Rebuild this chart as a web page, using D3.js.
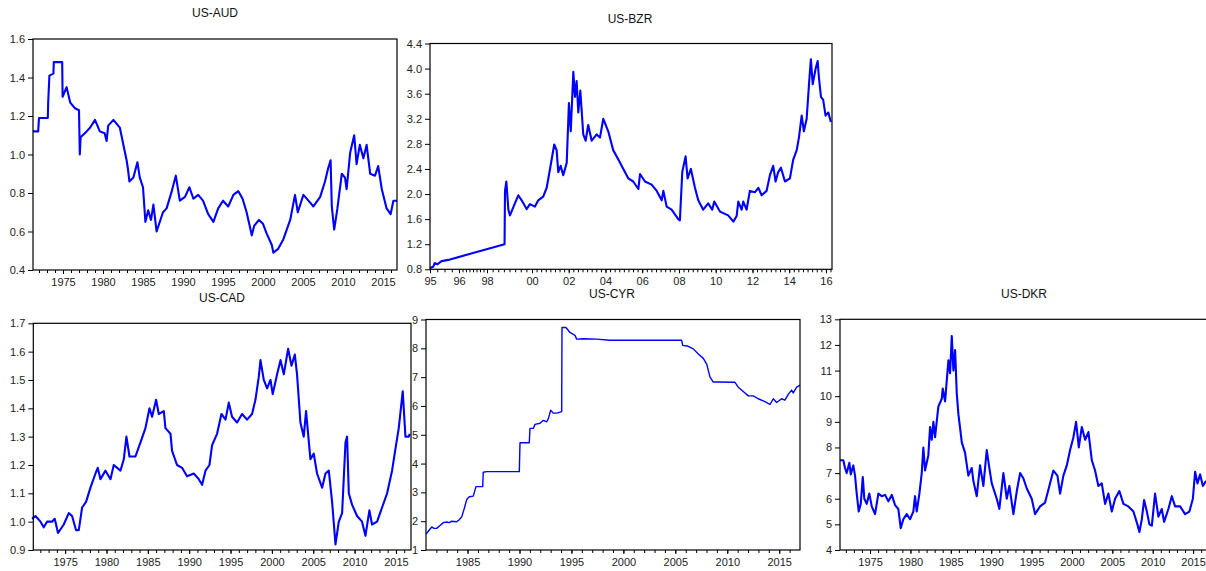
<!DOCTYPE html>
<html>
<head>
<meta charset="utf-8">
<script src="https://cdn.jsdelivr.net/npm/d3@7"></script>
<style>
  body { margin: 0; background: #fff; }
  svg { display: block; font-family: "Liberation Sans", Arial, sans-serif; }
</style>
</head>
<body>
<script>
// DATA

const audYears = [1971.25, 1971.9, 1972.0, 1973.1, 1973.15, 1973.3, 1973.8, 1973.85, 1974.9, 1974.95,
  1975.45, 1975.9, 1976.5, 1977.0, 1977.1, 1977.2, 1977.95, 1978.4, 1979.0, 1979.6,
  1980.2, 1980.45, 1980.65, 1981.3, 1982.1, 1982.5, 1982.95, 1983.1, 1983.3, 1983.8,
  1984.3, 1984.6, 1985.0, 1985.3, 1985.65, 1986.0, 1986.3, 1986.7, 1987.5, 1987.95,
  1988.6, 1989.1, 1989.6, 1990.25, 1990.8, 1991.3, 1991.9, 1992.5, 1993.15, 1993.8,
  1994.4, 1995.0, 1995.65, 1996.3, 1996.9, 1997.45, 1997.95, 1998.6, 1998.9, 1999.5,
  2000.0, 2000.45, 2001.1, 2001.3, 2001.9, 2002.55, 2003.4, 2004.0, 2004.35, 2005.05,
  2005.9, 2006.3, 2007.15, 2007.75, 2008.15, 2008.45, 2008.6, 2008.9, 2009.3, 2009.85,
  2010.25, 2010.45, 2010.9, 2011.4, 2011.7, 2012.1, 2012.55, 2012.95, 2013.4, 2014.0,
  2014.4, 2014.85, 2015.45, 2015.95, 2016.3, 2016.75];
const audRates = [1.12, 1.12, 1.19, 1.19, 1.27, 1.41, 1.42, 1.48, 1.48, 1.30,
  1.35, 1.27, 1.24, 1.23, 1.00, 1.09, 1.12, 1.14, 1.18, 1.12,
  1.11, 1.07, 1.15, 1.18, 1.14, 1.06, 0.97, 0.93, 0.86, 0.88,
  0.96, 0.88, 0.83, 0.65, 0.71, 0.66, 0.74, 0.60, 0.70, 0.72,
  0.81, 0.89, 0.76, 0.78, 0.83, 0.77, 0.79, 0.76, 0.69, 0.65,
  0.72, 0.76, 0.73, 0.79, 0.81, 0.77, 0.70, 0.58, 0.63, 0.66,
  0.64, 0.59, 0.53, 0.49, 0.51, 0.56, 0.66, 0.79, 0.70, 0.79,
  0.75, 0.73, 0.78, 0.86, 0.93, 0.97, 0.73, 0.61, 0.72, 0.90,
  0.88, 0.82, 1.01, 1.10, 0.95, 1.05, 0.98, 1.05, 0.90, 0.89,
  0.94, 0.82, 0.72, 0.69, 0.76, 0.76];

const bzrYears = [1995.0, 1995.11, 1995.16, 1995.25, 1995.4, 1995.63, 1998.78, 1998.8, 1998.86, 1998.95,
  1999.02, 1999.24, 1999.39, 1999.54, 1999.76, 1999.91, 2000.16, 2000.34, 2000.61, 2000.80,
  2000.98, 2001.07, 2001.21, 2001.34, 2001.43, 2001.56, 2001.70, 2001.89, 2002.01, 2002.11,
  2002.25, 2002.34, 2002.43, 2002.52, 2002.63, 2002.79, 2002.92, 2003.06, 2003.25, 2003.52,
  2003.70, 2003.88, 2004.15, 2004.42, 2004.70, 2004.97, 2005.24, 2005.51, 2005.79, 2005.88,
  2006.15, 2006.51, 2006.79, 2007.06, 2007.15, 2007.33, 2007.60, 2007.96, 2008.05, 2008.18,
  2008.36, 2008.47, 2008.65, 2008.87, 2009.05, 2009.32, 2009.59, 2009.81, 2009.92, 2010.23,
  2010.68, 2010.96, 2011.14, 2011.23, 2011.41, 2011.50, 2011.68, 2011.86, 2012.14, 2012.32,
  2012.50, 2012.77, 2012.95, 2013.13, 2013.26, 2013.40, 2013.55, 2013.77, 2014.04, 2014.22,
  2014.41, 2014.53, 2014.68, 2014.80, 2014.95, 2015.09, 2015.18, 2015.28, 2015.44, 2015.55,
  2015.62, 2015.73, 2015.85, 2015.98, 2016.13, 2016.27];
const bzrRates = [0.82, 0.84, 0.90, 0.88, 0.93, 0.95, 1.20, 2.05, 2.20, 1.75,
  1.66, 1.85, 1.98, 1.90, 1.76, 1.84, 1.80, 1.90, 1.96, 2.10,
  2.40, 2.55, 2.79, 2.70, 2.35, 2.45, 2.30, 2.50, 3.45, 3.00,
  3.95, 3.55, 3.80, 3.30, 3.65, 2.95, 2.85, 3.10, 2.85, 2.95,
  2.90, 3.20, 3.00, 2.70, 2.55, 2.40, 2.25, 2.20, 2.08, 2.32,
  2.20, 2.15, 2.05, 1.90, 2.05, 1.80, 1.75, 1.60, 1.58, 2.35,
  2.60, 2.25, 2.40, 2.10, 1.90, 1.75, 1.85, 1.75, 1.88, 1.72,
  1.66, 1.56, 1.65, 1.88, 1.75, 1.88, 1.75, 2.05, 2.03, 2.10,
  1.98, 2.05, 2.30, 2.45, 2.20, 2.35, 2.42, 2.20, 2.25, 2.55,
  2.70, 2.90, 3.25, 3.00, 3.20, 3.80, 4.15, 3.75, 4.00, 4.12,
  3.85, 3.55, 3.50, 3.25, 3.30, 3.15];

const cadYears = [1971.0, 1971.41, 1972.02, 1972.41, 1972.81, 1973.42, 1973.74, 1974.14, 1974.83, 1975.44,
  1975.84, 1976.32, 1976.65, 1977.05, 1977.53, 1978.06, 1978.67, 1978.94, 1979.27, 1979.88,
  1980.48, 1980.88, 1981.69, 1982.09, 1982.41, 1982.78, 1983.50, 1984.11, 1984.71, 1985.20,
  1985.51, 1986.0, 1986.32, 1986.93, 1987.13, 1987.74, 1987.93, 1988.53, 1989.14, 1989.74,
  1990.55, 1991.16, 1991.56, 1991.97, 1992.45, 1992.77, 1993.37, 1993.90, 1994.39, 1994.79,
  1995.18, 1995.79, 1996.39, 1997.0, 1997.60, 1998.01, 1998.41, 1998.62, 1999.02, 1999.42,
  1999.83, 2000.10, 2000.63, 2001.04, 2001.44, 2001.96, 2002.37, 2002.77, 2003.04, 2003.45,
  2003.85, 2004.13, 2004.66, 2005.06, 2005.46, 2006.07, 2006.48, 2006.88, 2007.28, 2007.69,
  2008.09, 2008.49, 2008.90, 2009.09, 2009.30, 2009.69, 2010.30, 2010.90, 2011.31, 2011.79,
  2012.11, 2012.72, 2013.32, 2013.93, 2014.53, 2015.01, 2015.34, 2015.82, 2016.15, 2016.55, 2016.67];
const cadRates = [1.01, 1.02, 1.00, 0.98, 1.00, 1.00, 1.01, 0.96, 0.99, 1.03,
  1.02, 0.97, 0.97, 1.05, 1.07, 1.12, 1.17, 1.19, 1.15, 1.18,
  1.15, 1.20, 1.18, 1.22, 1.30, 1.23, 1.23, 1.28, 1.33, 1.40,
  1.37, 1.43, 1.38, 1.39, 1.33, 1.31, 1.25, 1.20, 1.19, 1.16,
  1.17, 1.15, 1.13, 1.18, 1.20, 1.27, 1.31, 1.38, 1.36, 1.42,
  1.37, 1.35, 1.38, 1.36, 1.38, 1.43, 1.51, 1.57, 1.50, 1.47,
  1.50, 1.45, 1.52, 1.57, 1.52, 1.61, 1.55, 1.59, 1.52, 1.35,
  1.30, 1.39, 1.22, 1.24, 1.17, 1.12, 1.17, 1.18, 1.07, 0.92,
  1.00, 1.03, 1.28, 1.30, 1.10, 1.06, 1.02, 1.00, 0.95, 1.04,
  0.99, 1.00, 1.05, 1.10, 1.18, 1.27, 1.33, 1.46, 1.30, 1.30, 1.31];

const cyrYears = [1981.0, 1981.22, 1981.55, 1981.77, 1982.03, 1982.35, 1982.67, 1982.99, 1983.24, 1983.47,
  1983.95, 1984.20, 1984.44, 1984.69, 1984.92, 1985.17, 1985.55, 1985.81, 1986.46, 1986.51,
  1986.84, 1989.98, 1990.05, 1990.94, 1991.01, 1991.33, 1991.49, 1991.97, 1992.29, 1992.62,
  1992.77, 1993.00, 1993.25, 1993.58, 1994.06, 1994.09, 1994.47, 1994.86, 1995.34, 1995.50,
  1996.14, 1997.43, 1998.71, 2005.61, 2005.71, 2006.25, 2006.73, 2007.21, 2007.69, 2008.02,
  2008.34, 2008.65, 2008.98, 2010.74, 2011.06, 2011.54, 2012.02, 2012.50, 2012.98, 2013.63,
  2014.11, 2014.43, 2014.75, 2015.23, 2015.55, 2015.87, 2016.19, 2016.35, 2016.68, 2017.0];
const cyrRates = [1.55, 1.65, 1.80, 1.75, 1.75, 1.85, 1.95, 1.97, 1.95, 2.00,
  1.98, 2.05, 2.15, 2.45, 2.75, 2.85, 2.87, 3.20, 3.20, 3.70,
  3.72, 3.72, 4.72, 4.72, 5.22, 5.22, 5.36, 5.40, 5.50, 5.45,
  5.55, 5.85, 5.75, 5.75, 5.80, 8.72, 8.72, 8.55, 8.45, 8.32,
  8.33, 8.32, 8.28, 8.28, 8.10, 8.07, 7.98, 7.80, 7.65, 7.45,
  7.00, 6.83, 6.83, 6.82, 6.65, 6.50, 6.35, 6.35, 6.25, 6.15,
  6.05, 6.25, 6.12, 6.25, 6.20, 6.40, 6.55, 6.45, 6.65, 6.72];

const dkrYears = [1971.28, 1971.69, 1971.90, 1972.11, 1972.44, 1972.61, 1972.93, 1973.14, 1973.35, 1973.60,
  1973.85, 1974.10, 1974.29, 1974.59, 1974.91, 1975.21, 1975.62, 1976.03, 1976.45, 1976.86,
  1977.27, 1977.69, 1978.10, 1978.50, 1978.80, 1979.12, 1979.54, 1979.95, 1980.36, 1980.57,
  1980.78, 1981.11, 1981.40, 1981.60, 1981.81, 1982.22, 1982.43, 1982.64, 1982.84, 1983.05,
  1983.46, 1983.88, 1984.00, 1984.29, 1984.70, 1984.91, 1985.12, 1985.32, 1985.53, 1985.74,
  1985.94, 1986.36, 1986.76, 1987.17, 1987.59, 1987.79, 1988.21, 1988.62, 1989.03, 1989.45,
  1989.77, 1990.07, 1990.69, 1991.01, 1991.51, 1991.93, 1992.25, 1992.75, 1993.17, 1993.58,
  1993.98, 1994.41, 1995.02, 1995.43, 1996.05, 1996.67, 1997.29, 1997.70, 1998.20, 1998.53,
  1998.94, 1999.36, 1999.77, 2000.18, 2000.51, 2000.85, 2001.22, 2001.63, 2002.04, 2002.46,
  2002.86, 2003.27, 2003.69, 2004.10, 2004.51, 2004.93, 2005.34, 2005.87, 2006.37, 2006.99,
  2007.61, 2008.10, 2008.35, 2008.65, 2008.93, 2009.27, 2009.59, 2009.89, 2010.29, 2010.70,
  2011.12, 2011.41, 2011.94, 2012.36, 2012.77, 2013.39, 2014.01, 2014.54, 2014.97, 2015.25,
  2015.54, 2015.87, 2016.21, 2016.62];
const dkrRates = [7.50, 7.50, 7.20, 7.00, 7.40, 6.95, 7.30, 6.90, 6.20, 5.50,
  5.80, 6.85, 6.00, 5.80, 6.20, 5.70, 5.40, 6.20, 6.10, 6.15,
  5.90, 6.15, 5.75, 5.60, 4.85, 5.20, 5.40, 5.20, 5.50, 6.10,
  5.50, 6.20, 7.00, 8.00, 7.10, 7.70, 8.80, 8.30, 9.00, 8.40,
  9.60, 9.90, 10.30, 9.80, 11.40, 10.90, 12.35, 11.00, 11.80, 10.10,
  9.30, 8.20, 7.80, 6.90, 7.20, 6.70, 6.10, 7.30, 6.50, 7.90,
  7.20, 6.60, 6.00, 5.60, 7.00, 6.00, 6.50, 5.40, 6.30, 7.00,
  6.80, 6.40, 6.00, 5.40, 5.70, 5.85, 6.60, 7.10, 6.90, 6.20,
  6.90, 7.30, 7.90, 8.40, 9.00, 8.00, 8.80, 8.30, 8.60, 7.50,
  7.10, 6.50, 6.60, 5.80, 6.20, 5.50, 6.00, 6.30, 5.80, 5.70,
  5.50, 5.00, 4.70, 5.20, 5.95, 5.50, 5.00, 4.95, 6.20, 5.30,
  5.60, 5.10, 5.60, 6.10, 5.70, 5.70, 5.40, 5.50, 6.00, 7.05,
  6.60, 6.95, 6.50, 6.70];

// tick labels
const fiveYearTicks = [1975, 1980, 1985, 1990, 1995, 2000, 2005, 2010, 2015];
const cyrXTicks = [1985, 1990, 1995, 2000, 2005, 2010, 2015];
const bzrXTicks = [1995, 1996, 1998, 2000, 2002, 2004, 2006, 2008, 2010, 2012, 2014, 2016];
const audYTicks = [0.4, 0.6, 0.8, 1.0, 1.2, 1.4, 1.6];
const bzrYTicks = [0.8, 1.2, 1.6, 2.0, 2.4, 2.8, 3.2, 3.6, 4.0, 4.4];
const cadYTicks = [0.9, 1.0, 1.1, 1.2, 1.3, 1.4, 1.5, 1.6, 1.7];
const cyrYTicks = [1, 2, 3, 4, 5, 6, 7, 8, 9];
const dkrYTicks = [4, 5, 6, 7, 8, 9, 10, 11, 12, 13];

// SETUP

const svg = d3.select('body')
              .append('svg')
              .attr('width', 1206)
              .attr('height', 571);

const fmt1 = d3.format('.1f');

const drawPanel = (p) => {
  const x = p.x, y = p.y;
  const xr = x.range();
  const x0 = xr[0], x1 = xr[xr.length - 1];
  const [yb, yt] = y.range();
  const g = svg.append('g');

  g.append('text')
   .attr('x', p.titleX)
   .attr('y', p.titleY)
   .attr('text-anchor', 'middle')
   .attr('font-size', 12)
   .attr('fill', '#111')
   .text(p.title);

  // series
  const line = d3.line()
                 .x(d => x(d[0]))
                 .y(d => y(d[1]));
  g.append('path')
   .datum(d3.zip(p.years, p.rates))
   .attr('d', line)
   .attr('fill', 'none')
   .attr('stroke', '#0000ff')
   .attr('stroke-width', p.lw)
   .attr('stroke-linejoin', 'round');

  // frame
  g.append('rect')
   .attr('x', x0)
   .attr('y', yt)
   .attr('width', x1 - x0)
   .attr('height', yb - yt)
   .attr('fill', 'none')
   .attr('stroke', '#000')
   .attr('stroke-width', 1.2);

  // left axis
  const yAxis = g.append('g')
                 .attr('transform', `translate(${x0},0)`)
                 .call(d3.axisLeft(y).tickValues(p.yTicks).tickSize(5).tickPadding(3).tickFormat(p.yFormat));

  // bottom axis: minor ticks then labelled ticks
  const minor = g.append('g')
                 .attr('transform', `translate(0,${yb})`)
                 .call(d3.axisBottom(x).tickValues(p.minor).tickSize(3).tickFormat(''));
  const xAxis = g.append('g')
                 .attr('transform', `translate(0,${yb})`)
                 .call(d3.axisBottom(x).tickValues(p.xTicks).tickSize(4).tickPadding(4).tickFormat(p.xFormat));

  [yAxis, minor, xAxis].forEach(a => {
    a.select('.domain').remove();
    a.attr('font-family', null).attr('font-size', 11);
    a.selectAll('line').attr('stroke', '#000');
    a.selectAll('text').attr('fill', '#222');
  });
};

// US-AUD
drawPanel({
  title: 'US-AUD', titleX: 215, titleY: 17,
  x: d3.scaleLinear().domain([1971.25, 2016.75]).range([33, 397]),
  y: d3.scaleLinear().domain([0.4, 1.6]).range([270, 39]),
  years: audYears, rates: audRates, lw: 2.1,
  yTicks: audYTicks, yFormat: fmt1,
  xTicks: fiveYearTicks, xFormat: d3.format('d'),
  minor: d3.range(1972, 2017)
});

// US-BZR (axis spaced by observation, so the scale is piecewise)
drawPanel({
  title: 'US-BZR', titleX: 630, titleY: 23,
  x: d3.scaleLinear().domain([1995, 1996, 1998, 2000, 2016.33]).range([430, 459, 487, 532, 832]),
  y: d3.scaleLinear().domain([0.8, 4.4]).range([269.3, 43.5]),
  years: bzrYears, rates: bzrRates, lw: 2.1,
  yTicks: bzrYTicks, yFormat: fmt1,
  xTicks: bzrXTicks, xFormat: d => String(d % 100).padStart(2, '0'),
  minor: d3.range(1995.25, 2016.3, 0.25)
});

// US-CAD
drawPanel({
  title: 'US-CAD', titleX: 222, titleY: 302,
  x: d3.scaleLinear().domain([1971.15, 2016.82]).range([33.3, 411]),
  y: d3.scaleLinear().domain([0.9, 1.7]).range([550, 323.3]),
  years: cadYears, rates: cadRates, lw: 2.1,
  yTicks: cadYTicks, yFormat: fmt1,
  xTicks: fiveYearTicks, xFormat: d3.format('d'),
  minor: d3.range(1972, 2017)
});

// US-CYR
drawPanel({
  title: 'US-CYR', titleX: 612, titleY: 298,
  x: d3.scaleLinear().domain([1981, 2017]).range([426, 800]),
  y: d3.scaleLinear().domain([1, 9]).range([550, 319.5]),
  years: cyrYears, rates: cyrRates, lw: 1.4,
  yTicks: cyrYTicks, yFormat: d3.format('d'),
  xTicks: cyrXTicks, xFormat: d3.format('d'),
  minor: d3.range(1982, 2017)
});

// US-DKR
drawPanel({
  title: 'US-DKR', titleX: 1024, titleY: 298,
  x: d3.scaleLinear().domain([1971.28, 2016.72]).range([840, 1207]),
  y: d3.scaleLinear().domain([4, 13]).range([550, 319.3]),
  years: dkrYears, rates: dkrRates, lw: 2.1,
  yTicks: dkrYTicks, yFormat: d3.format('d'),
  xTicks: fiveYearTicks, xFormat: d3.format('d'),
  minor: d3.range(1972, 2017)
});
</script>
</body>
</html>
